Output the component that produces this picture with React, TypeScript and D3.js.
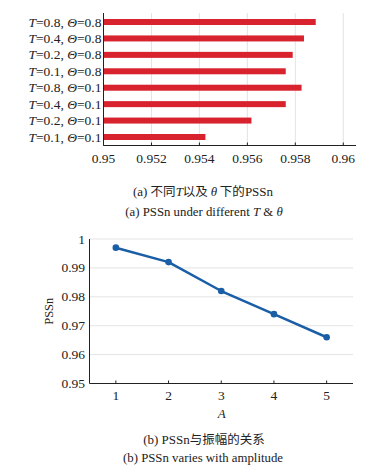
import React from "react";
import * as d3 from "d3";

const barT = ["0.8", "0.4", "0.2", "0.1", "0.8", "0.4", "0.2", "0.1"];
const barTheta = ["0.8", "0.8", "0.8", "0.8", "0.1", "0.1", "0.1", "0.1"];
const barValues = [0.95885, 0.95836, 0.95789, 0.9576, 0.95826, 0.9576, 0.95617, 0.95425];
const barTicks = [0.95, 0.952, 0.954, 0.956, 0.958, 0.96];
const barTickLabels = ["0.95", "0.952", "0.954", "0.956", "0.958", "0.96"];

const ampA = [1, 2, 3, 4, 5];
const ampPSSn = [0.997, 0.992, 0.982, 0.974, 0.966];
const lineYTicks = [0.95, 0.96, 0.97, 0.98, 0.99, 1];
const lineYTickLabels = ["0.95", "0.96", "0.97", "0.98", "0.99", "1"];

const SERIF = "'Liberation Serif', 'Times New Roman', 'Noto Sans CJK SC', serif";
const CJK = "'Noto Sans CJK SC', 'Liberation Serif', serif";
const RED = "#d8222e";
const BLUE = "#1a5ea6";
const GRID = "#dcdcdc";

export default function App() {
  // Chart (a)
  const xa = d3.scaleLinear().domain([0.95, 0.96]).range([103.5, 343.3]);
  const ids = barValues.map((_, i) => i);
  const ya = d3.scalePoint<number>().domain(ids).range([13.8, 145.2]).padding(0.5);
  const aBottom = 145.5;
  const aTop = 13;
  const aRight = 356;
  const barH = 6;

  // Chart (b)
  const xb = d3.scaleLinear().domain([0.5, 5.5]).range([89.5, 353]);
  const yb = d3.scaleLinear().domain([0.95, 1]).range([383.5, 239]);
  const line = d3
    .line<number>()
    .x((_, i) => xb(ampA[i]))
    .y((d) => yb(d));

  return (
    <svg
      width={376}
      height={473}
      style={{ position: "absolute", left: 0, top: 0, background: "#fff" }}
      fontFamily={SERIF}
    >
      <rect x={0} y={0} width={376} height={473} fill="#fff" />
      {/* ---------- Chart (a) ---------- */}
      {barTicks.slice(1).map((t) => (
        <line key={"ga" + t} x1={xa(t)} x2={xa(t)} y1={aTop} y2={aBottom} stroke={GRID} strokeWidth={0.8} />
      ))}
      {barValues.map((v, i) => (
        <rect
          key={"bar" + i}
          x={xa(0.95)}
          y={(ya(i) as number) - barH / 2}
          width={xa(v) - xa(0.95)}
          height={barH}
          fill={RED}
        />
      ))}
      <line x1={xa(0.95)} x2={xa(0.95)} y1={aTop} y2={aBottom} stroke="#222" strokeWidth={1} />
      <line x1={xa(0.95)} x2={aRight} y1={aBottom} y2={aBottom} stroke="#222" strokeWidth={1} />
      {barTicks.map((t, i) => (
        <g key={"ta" + t}>
          <line x1={xa(t)} x2={xa(t)} y1={aBottom} y2={aBottom - 3} stroke="#222" strokeWidth={1} />
          <text x={xa(t)} y={163} textAnchor="middle" fontSize={13.5} fill="#222">
            {barTickLabels[i]}
          </text>
        </g>
      ))}
      {ids.map((i) => (
        <text key={"la" + i} x={101.5} y={(ya(i) as number) + 4.6} textAnchor="end" fontSize={13.5} fill="#222">
          <tspan fontStyle="italic">T</tspan>
          <tspan>{"=" + barT[i] + ", "}</tspan>
          <tspan fontStyle="italic">Θ</tspan>
          <tspan>{"=" + barTheta[i]}</tspan>
        </text>
      ))}
      <text x={203} y={195.5} textAnchor="middle" fontSize={13} fill="#222">
        <tspan>(a) </tspan>
        <tspan fontFamily={CJK} fontSize={12.5}>不同</tspan>
        <tspan fontStyle="italic">T</tspan>
        <tspan fontFamily={CJK} fontSize={12.5}>以及 </tspan>
        <tspan fontStyle="italic">θ</tspan>
        <tspan fontFamily={CJK} fontSize={12.5}> 下的</tspan>
        <tspan>PSSn</tspan>
      </text>
      <text x={204} y={216} textAnchor="middle" fontSize={12.8} fill="#222">
        <tspan>(a) PSSn under different </tspan>
        <tspan fontStyle="italic">T</tspan>
        <tspan>{" &  "}</tspan>
        <tspan fontStyle="italic">θ</tspan>
      </text>

      {/* ---------- Chart (b) ---------- */}
      {lineYTicks.slice(1).map((t) => (
        <line key={"gb" + t} x1={xb(0.5)} x2={xb(5.5)} y1={yb(t)} y2={yb(t)} stroke={GRID} strokeWidth={0.8} />
      ))}
      <line x1={xb(0.5)} x2={xb(0.5)} y1={yb(1)} y2={yb(0.95)} stroke="#222" strokeWidth={1} />
      <line x1={xb(0.5)} x2={xb(5.5)} y1={yb(0.95)} y2={yb(0.95)} stroke="#222" strokeWidth={1} />
      {lineYTicks.map((t, i) => (
        <text key={"tyb" + t} x={85} y={yb(t) + 4.5} textAnchor="end" fontSize={13.5} fill="#222">
          {lineYTickLabels[i]}
        </text>
      ))}
      {ampA.map((a) => (
        <g key={"txb" + a}>
          <line x1={xb(a)} x2={xb(a)} y1={yb(0.95)} y2={yb(0.95) - 3} stroke="#222" strokeWidth={1} />
          <text x={xb(a)} y={400} textAnchor="middle" fontSize={13.5} fill="#222">
            {String(a)}
          </text>
        </g>
      ))}
      <path d={line(ampPSSn) || ""} fill="none" stroke={BLUE} strokeWidth={2.5} strokeLinejoin="round" />
      {ampPSSn.map((v, i) => (
        <circle key={"pt" + i} cx={xb(ampA[i])} cy={yb(v)} r={3.3} fill={BLUE} />
      ))}
      <text
        x={0}
        y={0}
        transform={`translate(53, ${(yb(0.95) + yb(1)) / 2}) rotate(-90)`}
        textAnchor="middle"
        fontSize={12.5}
        fill="#222"
      >
        PSSn
      </text>
      <text x={221.7} y={418} textAnchor="middle" fontSize={13} fontStyle="italic" fill="#222">
        A
      </text>
      <text x={204} y={443.5} textAnchor="middle" fontSize={13} fill="#222">
        <tspan>(b) PSSn</tspan>
        <tspan fontFamily={CJK} fontSize={12.5}>与振幅的关系</tspan>
      </text>
      <text x={203} y={462} textAnchor="middle" fontSize={12.8} fill="#222">
        (b) PSSn varies with amplitude
      </text>
    </svg>
  );
}
